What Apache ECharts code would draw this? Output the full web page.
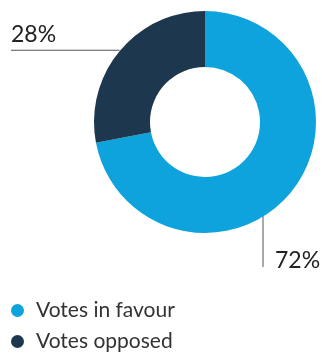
<!DOCTYPE html>
<html>
<head>
<meta charset="utf-8">
<style>
  html, body { margin: 0; padding: 0; background: #fff; }
  #chart { width: 322px; height: 354px; }
</style>
<script src="https://cdn.jsdelivr.net/npm/echarts@6/dist/echarts.min.js"></script>
</head>
<body>
<div id="chart"></div>
<script>
// data
var names = ['Votes in favour', 'Votes opposed'];
var values = [72, 28];
var colors = ['#0ea3dc', '#1c374e'];

var myChart = echarts.init(document.getElementById('chart'));

// one legend block per row so they stack
var legendTops = [295, 326];
var legends = names.map(function (n, i) {
  return {
    left: 6,
    top: legendTops[i],
    icon: 'circle',
    itemWidth: 13,
    itemHeight: 13,
    textStyle: {
      fontFamily: 'Lato',
      fontSize: 21,
      color: '#333',
      padding: [0, 0, 0, 7]
    },
    data: [n]
  };
});

myChart.setOption({
  animation: false,
  color: colors,
  legend: legends,
  series: [
    {
      type: 'pie',
      center: [205, 122],
      radius: [55, 111],
      startAngle: 90,
      clockwise: true,
      silent: true,
      avoidLabelOverlap: false,
      label: {
        show: true,
        formatter: '{c}%',
        overflow: 'none',
        fontFamily: 'Lato',
        fontSize: 23,
        color: '#222'
      },
      labelLine: {
        show: true,
        length: 4,
        length2: 4,
        lineStyle: { color: '#555', width: 1 }
      },
      // leader lines: horizontal for the small slice, vertical for the big one
      labelLayout: function (params) {
        var start = params.labelLinePoints ? params.labelLinePoints[0] : [120, 51];
        if (params.dataIndex == 1) {
          return {
            x: 11,
            y: start[1] - 5,
            align: 'left',
            verticalAlign: 'bottom',
            labelLinePoints: [[start[0], start[1] - 1], [11, start[1] - 1]]
          };
        } else {
          return {
            x: 275,
            y: 272,
            align: 'left',
            verticalAlign: 'bottom',
            labelLinePoints: [[263, 216], [263, 267]]
          };
        }
      },
      data: values.map(function (v, i) {
        return { name: names[i], value: v };
      })
    }
  ]
});
</script>
</body>
</html>
